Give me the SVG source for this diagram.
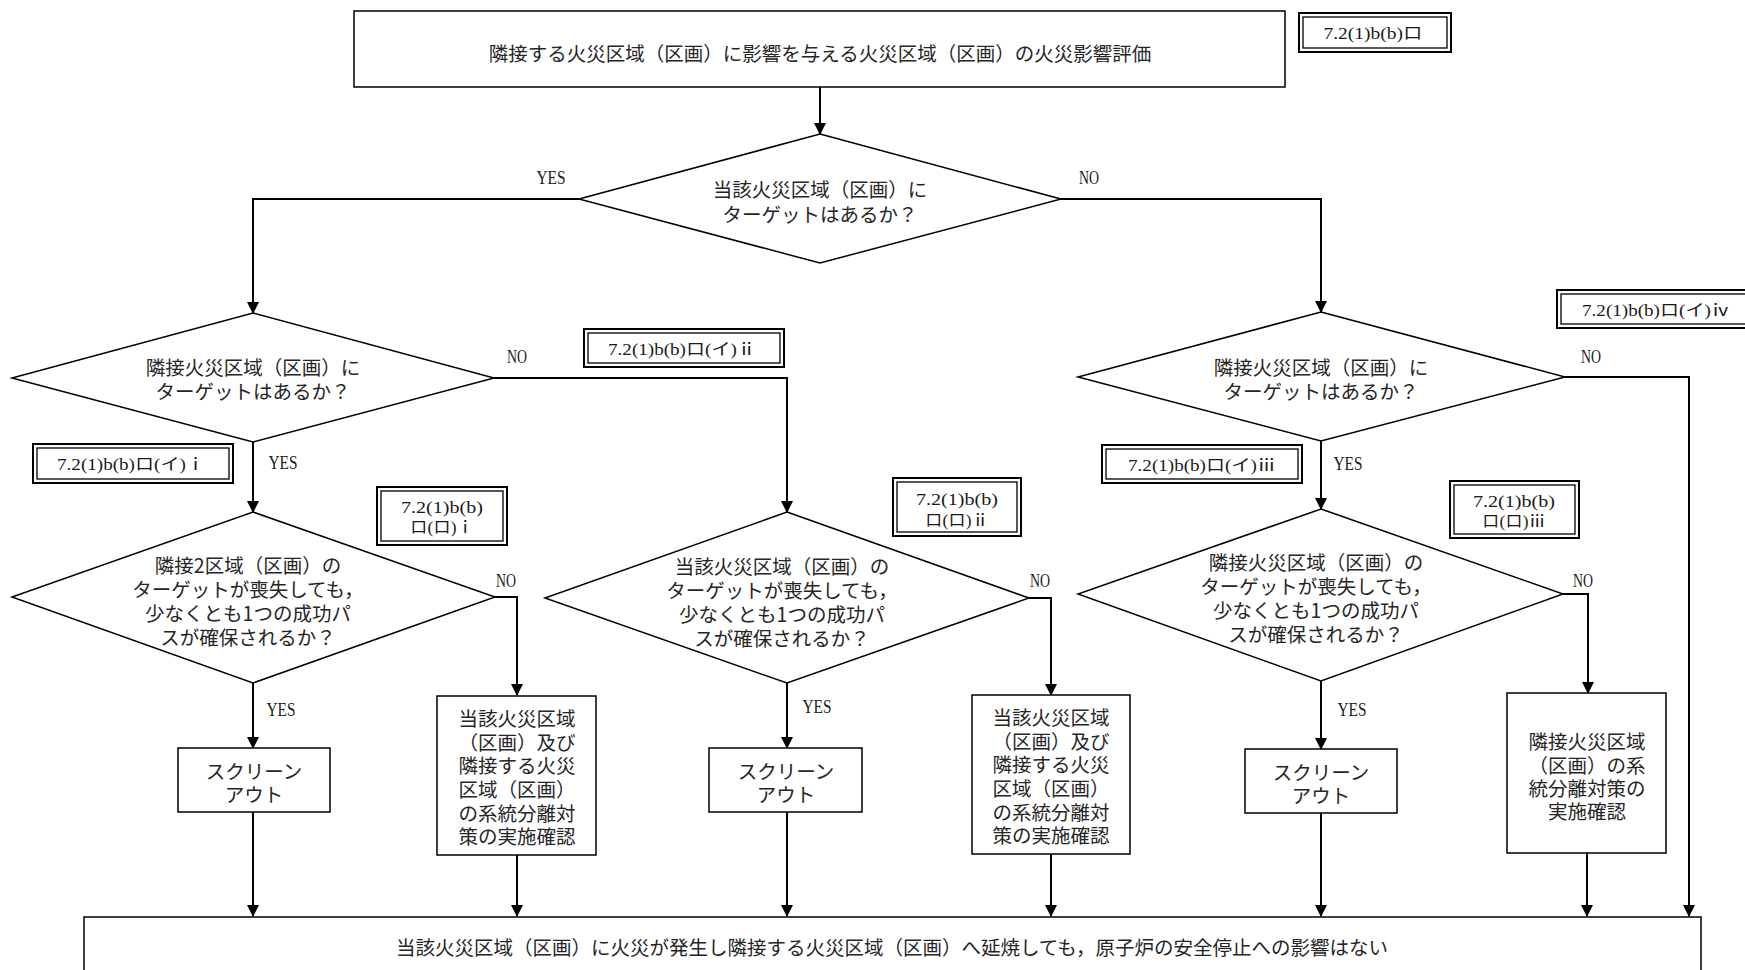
<svg xmlns="http://www.w3.org/2000/svg" width="1745" height="970" viewBox="0 0 1745 970">
<style>
.shape{fill:#fff;stroke:#000;stroke-width:1.5}
.conn{fill:none;stroke:#000;stroke-width:2}
.jp{font-family:"Noto Sans CJK JP","Noto Sans CJK SC",sans-serif;font-size:19.5px;fill:#262626;text-anchor:middle;dominant-baseline:central}
.yn{font-family:"Liberation Serif","DejaVu Serif",serif;font-size:19.5px;fill:#1a1a1a;text-anchor:middle;dominant-baseline:central}
.lbl{font-family:"Liberation Serif","Noto Sans CJK JP",serif;font-size:16.5px;fill:#1a1a1a;text-anchor:middle;dominant-baseline:central}
.lo{fill:#fff;stroke:#000;stroke-width:2}
.li{fill:none;stroke:#000;stroke-width:1.3}
</style>
<defs>
<marker id="arr" markerUnits="userSpaceOnUse" markerWidth="12" markerHeight="13" refX="11" refY="6" orient="auto">
<path d="M0,0 L12,6 L0,12 z" fill="#000"/>
</marker>
</defs>
<rect width="1745" height="970" fill="#fff"/>

<g id="connectors">
<path class="conn" d="M820,87 V134" marker-end="url(#arr)"/>
<path class="conn" d="M579,199 H253 V313" marker-end="url(#arr)"/>
<path class="conn" d="M1061,199 H1321 V312" marker-end="url(#arr)"/>
<path class="conn" d="M494,378 H787 V512" marker-end="url(#arr)"/>
<path class="conn" d="M253,442 V512" marker-end="url(#arr)"/>
<path class="conn" d="M495,597 H517 V695" marker-end="url(#arr)"/>
<path class="conn" d="M253,683 V748" marker-end="url(#arr)"/>
<path class="conn" d="M253,812 V916" marker-end="url(#arr)"/>
<path class="conn" d="M517,855 V916" marker-end="url(#arr)"/>
<path class="conn" d="M1029,598 H1051 V695" marker-end="url(#arr)"/>
<path class="conn" d="M787,683 V748" marker-end="url(#arr)"/>
<path class="conn" d="M787,812 V916" marker-end="url(#arr)"/>
<path class="conn" d="M1051,854 V916" marker-end="url(#arr)"/>
<path class="conn" d="M1565,377 H1689 V916" marker-end="url(#arr)"/>
<path class="conn" d="M1321,441 V509" marker-end="url(#arr)"/>
<path class="conn" d="M1563,594 H1588 V693" marker-end="url(#arr)"/>
<path class="conn" d="M1321,681 V749" marker-end="url(#arr)"/>
<path class="conn" d="M1321,813 V916" marker-end="url(#arr)"/>
<path class="conn" d="M1587,853 V916" marker-end="url(#arr)"/>
<text class="yn" x="551" y="177" textLength="29" lengthAdjust="spacingAndGlyphs">YES</text>
<text class="yn" x="1089" y="177" textLength="20" lengthAdjust="spacingAndGlyphs">NO</text>
<text class="yn" x="517" y="356" textLength="20" lengthAdjust="spacingAndGlyphs">NO</text>
<text class="yn" x="283" y="462" textLength="29" lengthAdjust="spacingAndGlyphs">YES</text>
<text class="yn" x="506" y="580" textLength="20" lengthAdjust="spacingAndGlyphs">NO</text>
<text class="yn" x="281" y="709" textLength="29" lengthAdjust="spacingAndGlyphs">YES</text>
<text class="yn" x="1040" y="580" textLength="20" lengthAdjust="spacingAndGlyphs">NO</text>
<text class="yn" x="817" y="706" textLength="29" lengthAdjust="spacingAndGlyphs">YES</text>
<text class="yn" x="1591" y="356" textLength="20" lengthAdjust="spacingAndGlyphs">NO</text>
<text class="yn" x="1348" y="463" textLength="29" lengthAdjust="spacingAndGlyphs">YES</text>
<text class="yn" x="1583" y="580" textLength="20" lengthAdjust="spacingAndGlyphs">NO</text>
<text class="yn" x="1352" y="709" textLength="29" lengthAdjust="spacingAndGlyphs">YES</text>
</g>

<g id="start">
<rect class="shape" x="354" y="11" width="931" height="76"/>
<text class="jp" x="820" y="52">隣接する火災区域（区画）に影響を与える火災区域（区画）の火災影響評価</text>
</g>

<g id="ref-ro">
<rect class="lo" x="1299" y="13" width="152" height="39"/>
<rect class="li" x="1303" y="17" width="144" height="31"/>
<text class="lbl" x="1373" y="33" textLength="99" lengthAdjust="spacingAndGlyphs">7.2(1)b(b)ロ</text>
</g>

<g id="d1">
<polygon class="shape" points="820,134 1061,199 820,263 579,199"/>
<text class="jp"><tspan x="820" y="188">当該火災区域（区画）に</tspan><tspan x="820" y="213">ターゲットはあるか？</tspan></text>
</g>

<g id="d2">
<polygon class="shape" points="253,313 494,378 253,442 12,378"/>
<text class="jp"><tspan x="253" y="366">隣接火災区域（区画）に</tspan><tspan x="253" y="390">ターゲットはあるか？</tspan></text>
</g>

<g id="ref-i-i">
<rect class="lo" x="33" y="444" width="200" height="39"/>
<rect class="li" x="37" y="448" width="192" height="31"/>
<text class="lbl" x="131" y="464" textLength="148" lengthAdjust="spacingAndGlyphs">7.2(1)b(b)ロ(イ)ⅰ</text>
</g>

<g id="ref-i-ii">
<rect class="lo" x="584" y="329" width="200" height="38"/>
<rect class="li" x="588" y="333" width="192" height="30"/>
<text class="lbl" x="682" y="349" textLength="148" lengthAdjust="spacingAndGlyphs">7.2(1)b(b)ロ(イ)ⅱ</text>
</g>

<g id="d3">
<polygon class="shape" points="253,512 495,597 253,683 12,597"/>
<text class="jp"><tspan x="248" y="564">隣接2区域（区画）の</tspan><tspan x="248" y="588">ターゲットが喪失しても，</tspan><tspan x="248" y="612">少なくとも1つの成功パ</tspan><tspan x="248" y="636">スが確保されるか？</tspan></text>
</g>

<g id="ref-ro-i">
<rect class="lo" x="377" y="487" width="130" height="58"/>
<rect class="li" x="381" y="491" width="122" height="50"/>
<text class="lbl" x="442" y="507" textLength="82" lengthAdjust="spacingAndGlyphs">7.2(1)b(b)</text>
<text class="lbl" x="442" y="527" textLength="64" lengthAdjust="spacingAndGlyphs">ロ(ロ)ⅰ</text>
</g>

<g id="screen1">
<rect class="shape" x="178" y="748" width="152" height="64"/>
<text class="jp"><tspan x="254" y="770">スクリーン</tspan><tspan x="254" y="793">アウト</tspan></text>
</g>

<g id="sep1">
<rect class="shape" x="437" y="696" width="159" height="159"/>
<text class="jp"><tspan x="517" y="717">当該火災区域</tspan><tspan x="517" y="740.5">（区画）及び</tspan><tspan x="517" y="764">隣接する火災</tspan><tspan x="517" y="788">区域（区画）</tspan><tspan x="517" y="811.5">の系統分離対</tspan><tspan x="517" y="835">策の実施確認</tspan></text>
</g>

<g id="d4">
<polygon class="shape" points="787,512 1029,598 787,683 545,598"/>
<text class="jp"><tspan x="782" y="565">当該火災区域（区画）の</tspan><tspan x="782" y="589">ターゲットが喪失しても，</tspan><tspan x="782" y="613">少なくとも1つの成功パ</tspan><tspan x="782" y="637">スが確保されるか？</tspan></text>
</g>

<g id="ref-ro-ii">
<rect class="lo" x="893" y="478" width="128" height="58"/>
<rect class="li" x="897" y="482" width="120" height="50"/>
<text class="lbl" x="957" y="499" textLength="82" lengthAdjust="spacingAndGlyphs">7.2(1)b(b)</text>
<text class="lbl" x="957" y="520" textLength="64" lengthAdjust="spacingAndGlyphs">ロ(ロ)ⅱ</text>
</g>

<g id="screen2">
<rect class="shape" x="709" y="748" width="153" height="64"/>
<text class="jp"><tspan x="786" y="770">スクリーン</tspan><tspan x="786" y="793">アウト</tspan></text>
</g>

<g id="sep2">
<rect class="shape" x="972" y="695" width="158" height="159"/>
<text class="jp"><tspan x="1051" y="716">当該火災区域</tspan><tspan x="1051" y="739.5">（区画）及び</tspan><tspan x="1051" y="763">隣接する火災</tspan><tspan x="1051" y="787">区域（区画）</tspan><tspan x="1051" y="810.5">の系統分離対</tspan><tspan x="1051" y="834">策の実施確認</tspan></text>
</g>

<g id="d5">
<polygon class="shape" points="1321,312 1565,377 1321,441 1078,377"/>
<text class="jp"><tspan x="1321" y="366">隣接火災区域（区画）に</tspan><tspan x="1321" y="390">ターゲットはあるか？</tspan></text>
</g>

<g id="ref-i-iv">
<rect class="lo" x="1557" y="290" width="198" height="38"/>
<rect class="li" x="1561" y="294" width="190" height="30"/>
<text class="lbl" x="1656" y="310" textLength="148" lengthAdjust="spacingAndGlyphs">7.2(1)b(b)ロ(イ)ⅳ</text>
</g>

<g id="ref-i-iii">
<rect class="lo" x="1102" y="445" width="200" height="38"/>
<rect class="li" x="1106" y="449" width="192" height="30"/>
<text class="lbl" x="1202" y="465" textLength="148" lengthAdjust="spacingAndGlyphs">7.2(1)b(b)ロ(イ)ⅲ</text>
</g>

<g id="d6">
<polygon class="shape" points="1321,509 1563,594 1321,681 1078,594"/>
<text class="jp"><tspan x="1316" y="561">隣接火災区域（区画）の</tspan><tspan x="1316" y="585">ターゲットが喪失しても，</tspan><tspan x="1316" y="609">少なくとも1つの成功パ</tspan><tspan x="1316" y="633">スが確保されるか？</tspan></text>
</g>

<g id="ref-ro-iii">
<rect class="lo" x="1450" y="481" width="129" height="57"/>
<rect class="li" x="1454" y="485" width="121" height="49"/>
<text class="lbl" x="1514" y="501" textLength="82" lengthAdjust="spacingAndGlyphs">7.2(1)b(b)</text>
<text class="lbl" x="1514" y="521" textLength="64" lengthAdjust="spacingAndGlyphs">ロ(ロ)ⅲ</text>
</g>

<g id="screen3">
<rect class="shape" x="1245" y="749" width="152" height="64"/>
<text class="jp"><tspan x="1321" y="771">スクリーン</tspan><tspan x="1321" y="794">アウト</tspan></text>
</g>

<g id="sep3">
<rect class="shape" x="1507" y="693" width="159" height="160"/>
<text class="jp"><tspan x="1587" y="740">隣接火災区域</tspan><tspan x="1587" y="764">（区画）の系</tspan><tspan x="1587" y="787">統分離対策の</tspan><tspan x="1587" y="810">実施確認</tspan></text>
</g>

<g id="end">
<rect class="shape" x="84" y="917" width="1617" height="70"/>
<text class="jp" x="892" y="946">当該火災区域（区画）に火災が発生し隣接する火災区域（区画）へ延焼しても，原子炉の安全停止への影響はない</text>
</g>
</svg>
